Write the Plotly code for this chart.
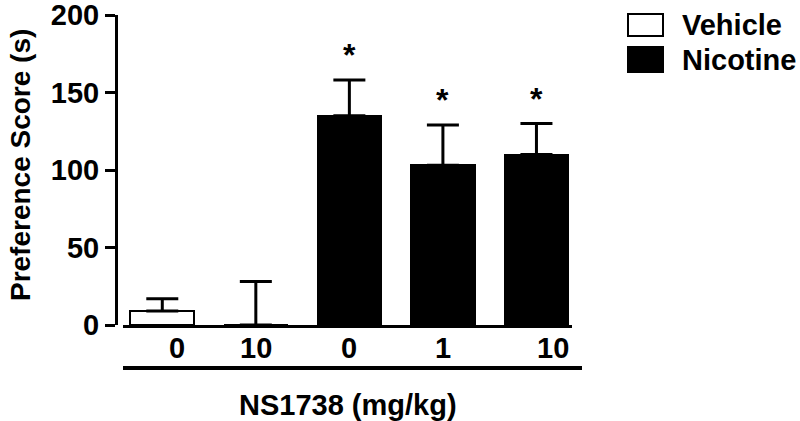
import plotly.graph_objects as go

# 数据
vehicle_x = [0, 1]
vehicle_values = [9, 0]
vehicle_err = [8, 28]

nicotine_x = [2, 3, 4]
nicotine_values = [135, 103, 110]
nicotine_err = [23, 26, 20]

dose_labels = ["0", "10", "0", "1", "10"]
significant = [False, False, True, True, True]

FONT = "Liberation Sans, Arial, sans-serif"

fig = go.Figure()

fig.add_trace(go.Bar(
    x=vehicle_x,
    y=vehicle_values,
    name="Vehicle",
    width=0.68,
    marker=dict(color="white", line=dict(color="black", width=2)),
    error_y=dict(type="data", symmetric=False, array=vehicle_err,
                 arrayminus=[0] * len(vehicle_err),
                 color="black", thickness=3, width=16),
))

fig.add_trace(go.Bar(
    x=nicotine_x,
    y=nicotine_values,
    name="Nicotine",
    width=0.68,
    marker=dict(color="black", line=dict(color="black", width=2)),
    error_y=dict(type="data", symmetric=False, array=nicotine_err,
                 arrayminus=[0] * len(nicotine_err),
                 color="black", thickness=3, width=16),
))

# 显著性星号
all_x = vehicle_x + nicotine_x
all_top = [v + e for v, e in zip(vehicle_values + nicotine_values, vehicle_err + nicotine_err)]
for x, top, sig in zip(all_x, all_top, significant):
    if sig:
        fig.add_annotation(x=x, y=top, text="<b>*</b>", showarrow=False,
                           yanchor="bottom", yshift=5,
                           font=dict(family=FONT, size=32, color="black"))

# 剂量标签（首尾略向右偏）
label_offset = [0.16, 0, 0, 0, 0.18]
for x, off, lab in zip(all_x, label_offset, dose_labels):
    fig.add_annotation(x=x + off, y=(325 - 348) / 310, xref="x", yref="paper",
                       text="<b>" + lab + "</b>", showarrow=False,
                       yanchor="middle", xanchor="center",
                       font=dict(family=FONT, size=29, color="black"))

fig.update_layout(
    width=800,
    height=421,
    plot_bgcolor="white",
    paper_bgcolor="white",
    showlegend=False,
    bargap=0,
    margin=dict(l=0, r=0, t=15, b=96),
    xaxis=dict(
        domain=[123 / 800, 572 / 800],
        range=[-0.42, 4.38],
        showticklabels=False,
        ticks="",
        showline=True,
        linecolor="black",
        linewidth=3,
        showgrid=False,
        zeroline=False,
    ),
    yaxis=dict(
        range=[0, 200],
        tickvals=[0, 50, 100, 150, 200],
        anchor="free",
        position=116 / 800,
        ticks="outside",
        ticklen=10,
        tickwidth=3,
        tickcolor="black",
        ticklabeloverflow="allow",
        showline=True,
        linecolor="black",
        linewidth=3,
        showgrid=False,
        zeroline=False,
        tickfont=dict(family=FONT, size=29, color="black", weight="bold"),
    ),
)

# y 轴标题
fig.add_annotation(x=20 / 800, y=0.516, xref="paper", yref="paper",
                   text="<b>Preference Score (s)</b>", textangle=-90,
                   showarrow=False, xanchor="center", yanchor="middle",
                   font=dict(family=FONT, size=28, color="black"))

# x 轴下方横线与标题
fig.add_shape(type="line", xref="paper", yref="paper",
              x0=123 / 800, x1=582 / 800, y0=-0.139, y1=-0.139,
              line=dict(color="black", width=4))
fig.add_annotation(x=348 / 800, y=(325 - 405) / 310, xref="paper", yref="paper",
                   text="<b>NS1738 (mg/kg)</b>", showarrow=False,
                   xanchor="center", yanchor="middle",
                   font=dict(family=FONT, size=29, color="black"))

# 图例
legend_items = [("Vehicle", "white", 14, 36), ("Nicotine", "black", 47, 72)]
for label, fill, top, bottom in legend_items:
    fig.add_shape(type="rect", xref="paper", yref="paper",
                  x0=628 / 800, x1=663 / 800,
                  y0=(325 - bottom) / 310, y1=(325 - top) / 310,
                  fillcolor=fill, line=dict(color="black", width=2))
    fig.add_annotation(x=680 / 800, y=(325 - (top + bottom) / 2) / 310,
                       xref="paper", yref="paper",
                       xanchor="left", yanchor="middle",
                       text="<b>" + label + "</b>", showarrow=False,
                       font=dict(family=FONT, size=29, color="black"))

fig.write_html("out.html", config={"displayModeBar": False},
               post_script="document.body.style.margin='0';")
